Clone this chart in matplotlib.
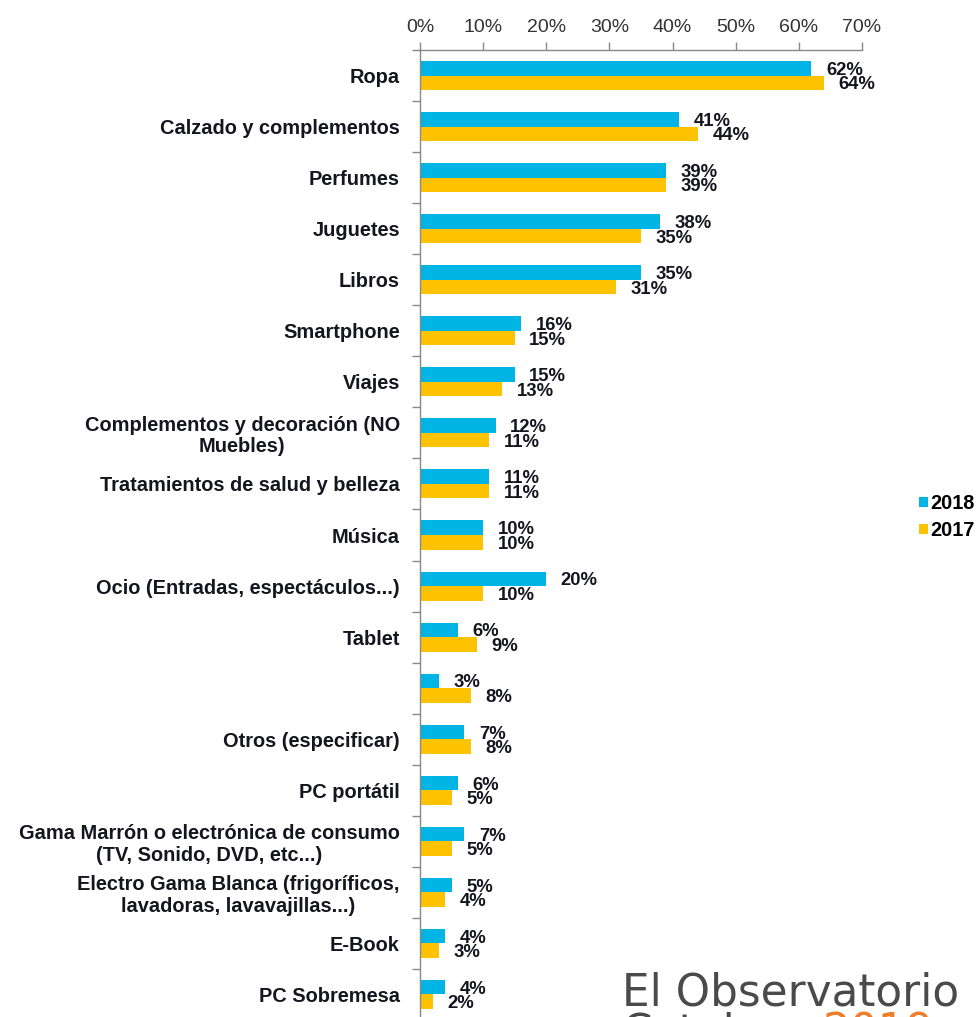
import matplotlib.pyplot as plt
import numpy as np

plt.rcParams["font.family"] = ["Liberation Sans", "DejaVu Sans"]

categories = [
    "Ropa",
    "Calzado y complementos",
    "Perfumes",
    "Juguetes",
    "Libros",
    "Smartphone",
    "Viajes",
    "Complementos y decoración (NO\nMuebles)",
    "Tratamientos de salud y belleza",
    "Música",
    "Ocio (Entradas, espectáculos...)",
    "Tablet",
    "",
    "Otros (especificar)",
    "PC portátil",
    "Gama Marrón o electrónica de consumo\n(TV, Sonido, DVD, etc...)",
    "Electro Gama Blanca (frigoríficos,\nlavadoras, lavavajillas...)",
    "E-Book",
    "PC Sobremesa",
]
vals_2018 = [62, 41, 39, 38, 35, 16, 15, 12, 11, 10, 20, 6, 3, 7, 6, 7, 5, 4, 4]
vals_2017 = [64, 44, 39, 35, 31, 15, 13, 11, 11, 10, 10, 9, 8, 8, 5, 5, 4, 3, 2]
x_ticks = [0, 10, 20, 30, 40, 50, 60, 70]

BLUE = "#00B4E6"
YELLOW = "#FDC300"
TEXT = "#15151f"

W, H = 979, 1017
fig = plt.figure(figsize=(W / 100, H / 100), dpi=100)
ax = fig.add_axes([420 / W, -3 / H, 442 / W, 970 / H])

y = np.arange(len(categories))
bh = 0.285
b1 = ax.barh(y - bh / 2, vals_2018, height=bh, color=BLUE, label="2018")
b2 = ax.barh(y + bh / 2, vals_2017, height=bh, color=YELLOW, label="2017")

for bars, vals in ((b1, vals_2018), (b2, vals_2017)):
    for bar, v in zip(bars, vals):
        ax.annotate(f"{v}%", (bar.get_width(), bar.get_y() + bar.get_height() / 2),
                    xytext=(10.5, -1.5), textcoords="offset points",
                    ha="left", va="center", fontsize=13.3, fontweight="bold", color=TEXT)

ax.set_xlim(0, 70)
ax.set_ylim(len(categories) - 0.5, -0.5)

ax.xaxis.tick_top()
ax.set_xticks(x_ticks)
ax.set_xticklabels([f"{t}%" for t in x_ticks], fontsize=14, color="#333333")
ax.tick_params(axis="x", direction="out", length=6, width=1, color="#888888", pad=4)

ax.set_yticks(y)
ax.set_yticklabels(categories, fontsize=14.4, fontweight="bold", color=TEXT, linespacing=1.15)
for lbl in ax.get_yticklabels():
    lbl.set_multialignment("center")
ax.set_yticks(np.arange(-0.5, len(categories), 1.0), minor=True)
ax.tick_params(axis="y", which="major", length=0, pad=14.5)
ax.tick_params(axis="y", which="minor", length=6, width=1, color="#888888", direction="out")

for side in ("right", "bottom"):
    ax.spines[side].set_visible(False)
for side in ("left", "top"):
    ax.spines[side].set_color("#888888")
    ax.spines[side].set_linewidth(1)

fig.legend(handles=[b1, b2], labels=["2018", "2017"], loc="center left",
           bbox_to_anchor=(919 / W, 1 - 517 / H), frameon=False,
           prop={"size": 14.4, "weight": "bold"}, handlelength=0.45, handleheight=0.45,
           handletextpad=0.1, labelspacing=0.4, borderpad=0, borderaxespad=0)

wm_font = ["DejaVu Sans"]
fig.text(622 / W, 1 - 1006 / H, "El Observatorio", fontsize=31.5, color="#4a4a4a",
         ha="left", va="baseline", family=wm_font)
fig.text(622 / W, 1 - 1045 / H, "Cetelem", fontsize=31.5, color="#4a4a4a",
         ha="left", va="baseline", family=wm_font)
fig.text(823 / W, 1 - 1045 / H, "2019", fontsize=31.5, color="#F07D28",
         ha="left", va="baseline", family=wm_font)

fig.savefig("out.png", dpi=100, facecolor="white")
